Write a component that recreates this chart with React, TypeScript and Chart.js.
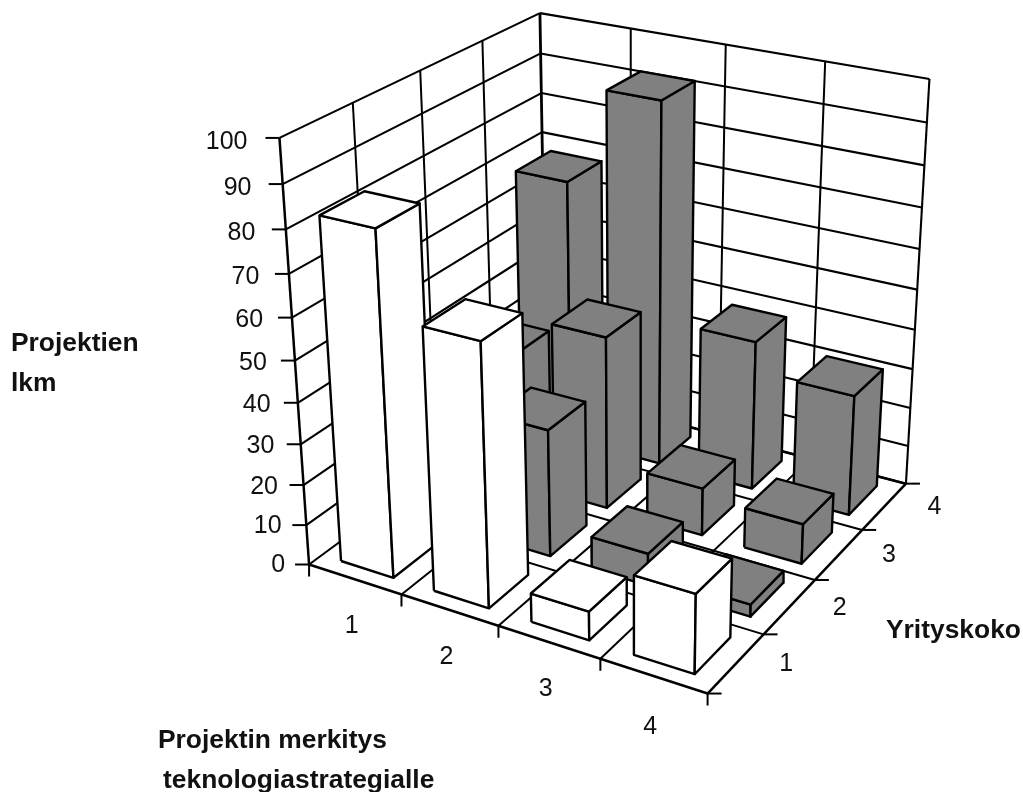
import React, { useEffect, useRef } from "react";
import Chart from "chart.js/auto";

// Number of projects by technology-strategy importance (1-4) and company size (1-4).
const importanceLabels = ["1", "2", "3", "4"];
const sizeLabels = ["1", "2", "3", "4"];
const valueTicks = [0, 10, 20, 30, 40, 50, 60, 70, 80, 90, 100];
const size1Values = [82.5, 63, 7, 19];
const size2Values = [0, 31.5, 8, 3];
const size3Values = [33, 43.5, 12, 10];
const size4Values = [67.5, 91.7, 38, 30.5];
const seriesBySize = [size1Values, size2Values, size3Values, size4Values];

const WIDTH = 1023;
const HEIGHT = 792;
const GREY = "#808080";
const BAR_U_START = 0.21;
const BAR_U_END = 0.78;
const BAR_V_START = 0.19;
const BAR_V_END = 0.82;

// Camera calibration pairs: [importance 0..1, size 0..1, value 0..1] -> canvas position.
const calibration: [number, number, number, number, number][] = [
  [0, 0, 0, 309.3, 565], [0, 0, 0.1, 306.7, 525], [0, 0, 0.2, 304.3, 485.3], [0, 0, 0.3, 301, 445],
  [0, 0, 0.4, 298.3, 402.7], [0, 0, 0.5, 295, 360], [0, 0, 0.6, 291.7, 317.3], [0, 0, 0.7, 289.3, 274],
  [0, 0, 0.8, 286, 229], [0, 0, 0.9, 281.7, 183], [0, 0, 1, 280, 137.7],
  [0.25, 0, 0, 399.3, 594], [0.5, 0, 0, 500, 626.7], [0.75, 0, 0, 600, 659.3], [1, 0, 0, 706.7, 692.7],
  [1, 0.25, 0, 763.3, 634], [1, 0.5, 0, 815, 581], [1, 0.75, 0, 861.7, 530.7], [1, 1, 0, 906.7, 481.7],
  [1, 1, 1, 930, 79.3], [0, 1, 1, 538.3, 13.3],
  [0, 0.25, 1, 351.7, 103.3], [0, 0.5, 1, 421.7, 70.7], [0, 0.75, 1, 482.7, 40.7],
  [0.25, 1, 1, 631, 28.3], [0.5, 1, 1, 725, 44.3], [0.75, 1, 1, 825.7, 62.3],
];

// Least-squares fit of the 3x4 projection with its last term fixed at 1.
function fitCamera(): number[] {
  const n = 11;
  const a = Array.from({ length: n }, () => new Array(n + 1).fill(0));
  const add = (row: number[], rhs: number) => {
    for (let i = 0; i < n; i++) {
      for (let j = 0; j < n; j++) a[i][j] += row[i] * row[j];
      a[i][n] += row[i] * rhs;
    }
  };
  for (const [u, v, w, px, py] of calibration) {
    add([u, v, w, 1, 0, 0, 0, 0, -px * u, -px * v, -px * w], px);
    add([0, 0, 0, 0, u, v, w, 1, -py * u, -py * v, -py * w], py);
  }
  for (let c = 0; c < n; c++) {
    let pivot = c;
    for (let r = c + 1; r < n; r++) if (Math.abs(a[r][c]) > Math.abs(a[pivot][c])) pivot = r;
    [a[c], a[pivot]] = [a[pivot], a[c]];
    for (let r = 0; r < n; r++) {
      if (r === c) continue;
      const f = a[r][c] / a[c][c];
      for (let k = c; k <= n; k++) a[r][k] -= f * a[c][k];
    }
  }
  return a.map((row, i) => row[n] / row[i]);
}

const cam = fitCamera();
type Pt = { x: number; y: number };
const project = (u: number, v: number, value: number): Pt => {
  const w = value / 100;
  const d = cam[8] * u + cam[9] * v + cam[10] * w + 1;
  return {
    x: (cam[0] * u + cam[1] * v + cam[2] * w + cam[3]) / d,
    y: (cam[4] * u + cam[5] * v + cam[6] * w + cam[7]) / d,
  };
};
const shift = (p: Pt, dx: number, dy: number): Pt => ({ x: p.x + dx, y: p.y + dy });

function buildDatasets() {
  const layers: any[] = [];
  const stroke = (data: Pt[], borderWidth: number) =>
    layers.push({ data, showLine: true, fill: false, borderColor: "#000", borderWidth, pointRadius: 0, borderCapStyle: "butt" });
  const face = (data: Pt[], color: string) =>
    layers.push({
      data: [...data, data[0]], showLine: true, fill: "shape", backgroundColor: color, borderColor: "#000",
      borderWidth: 2.4, pointRadius: 0, borderJoinStyle: "round",
    });

  // Walls and floor grid.
  valueTicks.forEach((t) => {
    stroke([project(0, 0, t), project(0, 1, t)], 2.1);
    stroke([project(0, 1, t), project(1, 1, t)], 2.1);
  });
  [0.25, 0.5, 0.75].forEach((f) => {
    stroke([project(0, f, 0), project(0, f, 100)], 2);
    stroke([project(f, 1, 0), project(f, 1, 100)], 2);
    stroke([project(f, 0, 0), project(f, 1, 0)], 2);
    stroke([project(0, f, 0), project(1, f, 0)], 2);
  });
  stroke([project(1, 1, 0), project(1, 1, 100)], 2.1);
  stroke([project(0, 1, 0), project(0, 1, 100)], 2.8);
  stroke([project(0, 0, 0), project(0, 0, 100)], 2.5);
  stroke([project(0, 0, 0), project(1, 0, 0)], 2.5);
  stroke([project(1, 0, 0), project(1, 1, 0)], 2.5);
  stroke([project(0, 1, 0), project(1, 1, 0)], 2.6);

  // Axis tick marks.
  valueTicks.forEach((t) => stroke([project(0, 0, t), shift(project(0, 0, t), -14, 0)], 2));
  [0, 0.25, 0.5, 0.75, 1].forEach((f) => {
    stroke([project(f, 0, 0), shift(project(f, 0, 0), 0, 12)], 2);
    stroke([project(1, f, 0), shift(project(1, f, 0), 14, 0)], 2);
  });

  // Bars, painted from the far row to the near one.
  const cell = 0.25;
  for (let s = sizeLabels.length - 1; s >= 0; s--) {
    seriesBySize[s].forEach((value, c) => {
      if (value <= 0) return;
      const u0 = (c + BAR_U_START) * cell;
      const u1 = (c + BAR_U_END) * cell;
      const v0 = (s + BAR_V_START) * cell;
      const v1 = (s + BAR_V_END) * cell;
      const color = s === 0 ? "#ffffff" : GREY;
      face([project(u0, v0, 0), project(u1, v0, 0), project(u1, v0, value), project(u0, v0, value)], color);
      face([project(u1, v0, 0), project(u1, v1, 0), project(u1, v1, value), project(u1, v0, value)], color);
      face([project(u0, v0, value), project(u1, v0, value), project(u1, v1, value), project(u0, v1, value)], color);
    });
  }
  // Earlier layers get a higher order so that Chart.js paints them first.
  return layers.map((d, i) => ({ ...d, order: layers.length - i }));
}

const axisText = {
  id: "axisText",
  afterDatasetsDraw(chart: any) {
    const { ctx, scales } = chart;
    const put = (text: string, p: Pt, align: CanvasTextAlign) => {
      ctx.textAlign = align;
      ctx.fillText(text, scales.x.getPixelForValue(p.x), scales.y.getPixelForValue(p.y));
    };
    ctx.save();
    ctx.fillStyle = "#111";
    ctx.textBaseline = "middle";
    ctx.font = '25px "Liberation Sans"';
    valueTicks.forEach((t) =>
      put(String(t), shift(project(0, 0, t), -24 - 0.08 * t, 1 + 0.03 * t), "right"));
    importanceLabels.forEach((l, i) => put(l, shift(project((i + 0.5) / 4, 0, 0), -3, i === 3 ? 51 : 47), "center"));
    sizeLabels.forEach((l, i) => put(l, shift(project(1, (i + 0.5) / 4, 0), 50, 1), "center"));
    ctx.font = 'bold 26.4px "Liberation Sans"';
    ctx.textBaseline = "alphabetic";
    put("Projektien", { x: 11, y: 351 }, "left");
    put("lkm", { x: 11, y: 391 }, "left");
    put("Yrityskoko", { x: 886, y: 638 }, "left");
    put("Projektin merkitys", { x: 158, y: 748 }, "left");
    put("teknologiastrategialle", { x: 163, y: 788 }, "left");
    ctx.restore();
  },
};

export default function App() {
  const ref = useRef<HTMLCanvasElement>(null);
  useEffect(() => {
    const chart = new Chart(ref.current!, {
      type: "scatter",
      data: { datasets: buildDatasets() },
      options: {
        animation: false,
        responsive: false,
        devicePixelRatio: 1,
        layout: { padding: 0 },
        plugins: { legend: { display: false }, tooltip: { enabled: false } },
        events: [],
        scales: {
          x: { type: "linear", display: false, min: 0, max: WIDTH },
          y: { type: "linear", display: false, min: 0, max: HEIGHT, reverse: true },
        },
      },
      plugins: [axisText],
    } as any);
    return () => chart.destroy();
  }, []);
  return (
    <canvas
      ref={ref}
      width={WIDTH}
      height={HEIGHT}
      style={{ position: "absolute", left: 0, top: 0, display: "block" }}
    />
  );
}
